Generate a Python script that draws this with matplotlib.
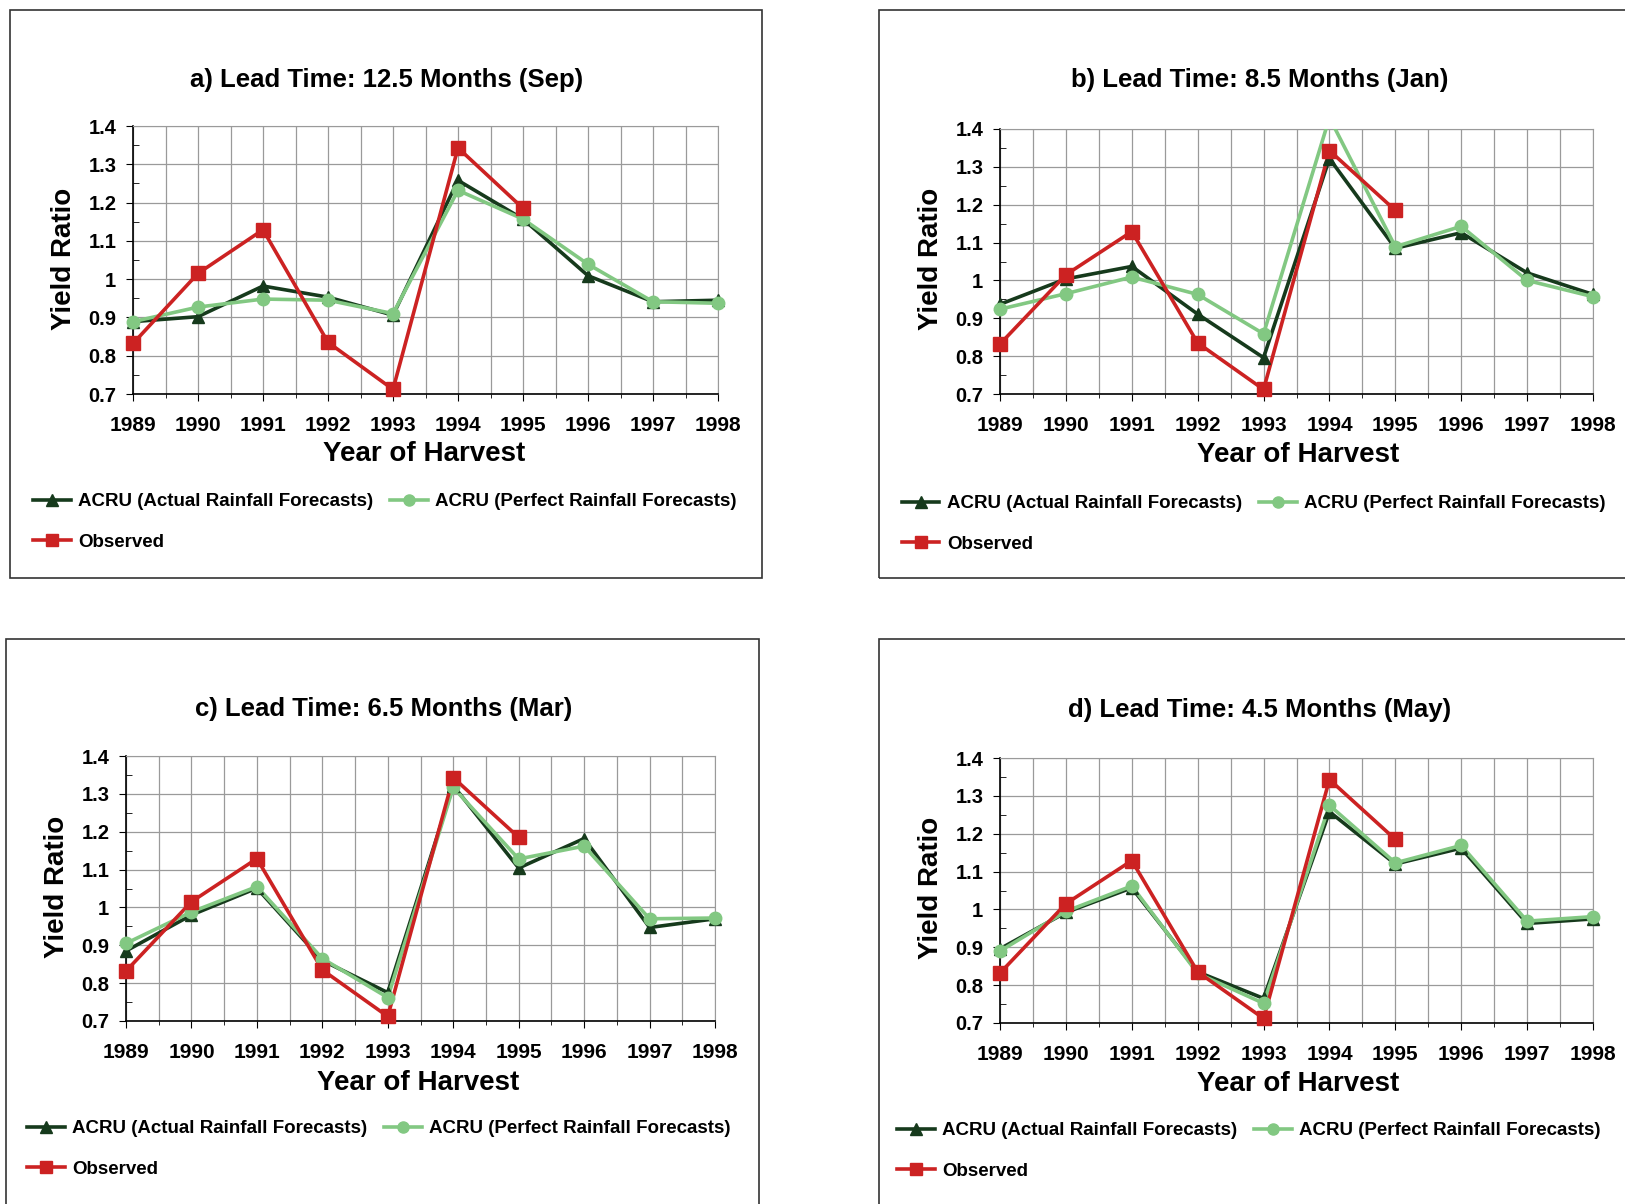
import numpy as np
import matplotlib
matplotlib.use("Agg")
import matplotlib.pyplot as plt
from matplotlib.lines import Line2D
from matplotlib.patches import Rectangle
from matplotlib.ticker import MultipleLocator, FuncFormatter

plt.rcParams["font.family"] = ["Liberation Sans", "DejaVu Sans"]

years = [1989, 1990, 1991, 1992, 1993, 1994, 1995, 1996, 1997, 1998]
nan = np.nan

titles = [
    "a) Lead Time: 12.5 Months (Sep)",
    "b) Lead Time: 8.5 Months (Jan)",
    "c) Lead Time: 6.5 Months (Mar)",
    "d) Lead Time: 4.5 Months (May)",
]

# observed yield ratio (same in every panel, ends 1995)
observed = [0.832, 1.015, 1.129, 0.835, 0.712, 1.343, 1.185, nan, nan, nan]

actual_a = [0.889, 0.902, 0.982, 0.953, 0.906, 1.258, 1.157, 1.009, 0.941, 0.945]
perfect_a = [0.889, 0.927, 0.948, 0.945, 0.910, 1.232, 1.157, 1.039, 0.941, 0.937]

actual_b = [0.937, 1.004, 1.037, 0.911, 0.796, 1.322, 1.085, 1.126, 1.020, 0.963]
perfect_b = [0.924, 0.965, 1.009, 0.963, 0.859, 1.430, 1.089, 1.143, 1.000, 0.957]

actual_c = [0.885, 0.980, 1.051, 0.860, 0.775, 1.322, 1.104, 1.182, 0.947, 0.970]
perfect_c = [0.905, 0.988, 1.055, 0.865, 0.762, 1.317, 1.128, 1.162, 0.970, 0.972]

actual_d = [0.896, 0.992, 1.057, 0.835, 0.765, 1.258, 1.120, 1.162, 0.963, 0.975]
perfect_d = [0.890, 0.995, 1.062, 0.831, 0.752, 1.275, 1.123, 1.169, 0.969, 0.981]

labels = [
    "ACRU (Actual Rainfall Forecasts)",
    "ACRU (Perfect Rainfall Forecasts)",
    "Observed",
]

W, H = 1625, 1204
RED = "#cc2222"
DARK = "#163a1c"
LIGHT = "#82c882"

# panel layouts in pixels (from top-left): box, axes, title, xlabel, ylabel, legend
panels = [
    dict(box=(10, 10, 762, 578), ax=(133, 126, 718, 394), title=(387, 80),
         xl=(424, 454), yl=(64, 259), leg=(33, 493)),
    dict(box=(879, 10, 1640, 578), ax=(1000, 129, 1593, 394), title=(1260, 80),
         xl=(1298, 455), yl=(931, 259), leg=(902, 495)),
    dict(box=(6, 639, 759, 1220), ax=(126, 756, 715, 1021), title=(384, 709),
         xl=(418, 1083), yl=(57, 887), leg=(27, 1120)),
    dict(box=(879, 639, 1640, 1220), ax=(1000, 758, 1593, 1023), title=(1260, 710),
         xl=(1298, 1084), yl=(931, 888), leg=(897, 1122)),
]
series = [(actual_a, perfect_a), (actual_b, perfect_b),
          (actual_c, perfect_c), (actual_d, perfect_d)]

fig = plt.figure(figsize=(W / 100, H / 100), dpi=100)


def fx(x):
    return x / W


def fy(y):
    return 1 - y / H


def yfmt(v, pos):
    s = f"{v:.1f}"
    return "1" if s == "1.0" else s


for i, p in enumerate(panels):
    x0, y0, x1, y1 = p["box"]
    fig.patches.append(Rectangle((fx(x0), fy(y1)), fx(x1 - x0), (y1 - y0) / H,
                                 transform=fig.transFigure, fill=False,
                                 edgecolor="#333333", lw=1.2))

    ax0, ay0, ax1, ay1 = p["ax"]
    ax = fig.add_axes([fx(ax0), fy(ay1), fx(ax1 - ax0), (ay1 - ay0) / H])
    act, perf = series[i]

    ax.set_xlim(1989, 1998)
    ax.set_ylim(0.7, 1.4)
    ax.xaxis.set_major_locator(MultipleLocator(1))
    ax.xaxis.set_minor_locator(MultipleLocator(0.5))
    ax.yaxis.set_major_locator(MultipleLocator(0.1))
    ax.yaxis.set_minor_locator(MultipleLocator(0.05))
    ax.yaxis.set_major_formatter(FuncFormatter(yfmt))
    ax.grid(True, which="major", color="#9a9a9a", lw=0.9)
    ax.grid(True, which="minor", axis="x", color="#9a9a9a", lw=0.9)
    ax.set_axisbelow(True)
    for s in ["top", "right"]:
        ax.spines[s].set_color("#9a9a9a")
    for s in ["left", "bottom"]:
        ax.spines[s].set_color("black")
        ax.spines[s].set_linewidth(1.2)
    ax.tick_params(axis="y", which="major", direction="out", length=5,
                   labelsize=14.5, pad=7)
    ax.tick_params(axis="x", which="major", direction="out", length=5,
                   labelsize=15, pad=11)
    ax.tick_params(axis="y", which="minor", direction="in", length=4)
    ax.tick_params(axis="x", which="minor", direction="out", length=3)
    for t in ax.get_xticklabels() + ax.get_yticklabels():
        t.set_fontweight("bold")

    x = np.array(years)
    for vals, col, mk, ms in [(act, DARK, "^", 9), (perf, LIGHT, "o", 9),
                              (observed, RED, "s", 10)]:
        v = np.array(vals, dtype=float)
        ax.plot(x, v, color=col, lw=2.6, zorder=3)
        vm = np.where(v <= 1.4, v, np.nan)
        ax.plot(x, vm, ls="none", marker=mk, ms=ms, color=col, mec=col,
                clip_on=False, zorder=4)

    tx, ty = p["title"]
    fig.text(fx(tx), fy(ty), titles[i], ha="center", va="center",
             fontsize=18.5, fontweight="bold")
    xx, xy = p["xl"]
    fig.text(fx(xx), fy(xy), "Year of Harvest", ha="center", va="center",
             fontsize=20, fontweight="bold")
    yx, yy = p["yl"]
    fig.text(fx(yx), fy(yy), "Yield Ratio", ha="center", va="center",
             rotation=90, fontsize=20, fontweight="bold")

    handles = [
        Line2D([], [], color=DARK, lw=2.6, marker="^", ms=8),
        Line2D([], [], color=RED, lw=2.6, marker="s", ms=8),
        Line2D([], [], color=LIGHT, lw=2.6, marker="o", ms=8),
    ]
    lx, ly = p["leg"]
    fig.legend(handles, [labels[0], labels[2], labels[1]], ncol=2,
               loc="upper left", bbox_to_anchor=(fx(lx), fy(ly)),
               frameon=False, borderpad=0, borderaxespad=0,
               handlelength=2.0, handletextpad=0.4, columnspacing=0.9,
               labelspacing=1.25, prop=dict(size=13.5, weight="bold"))

fig.savefig("out.png", dpi=100)
